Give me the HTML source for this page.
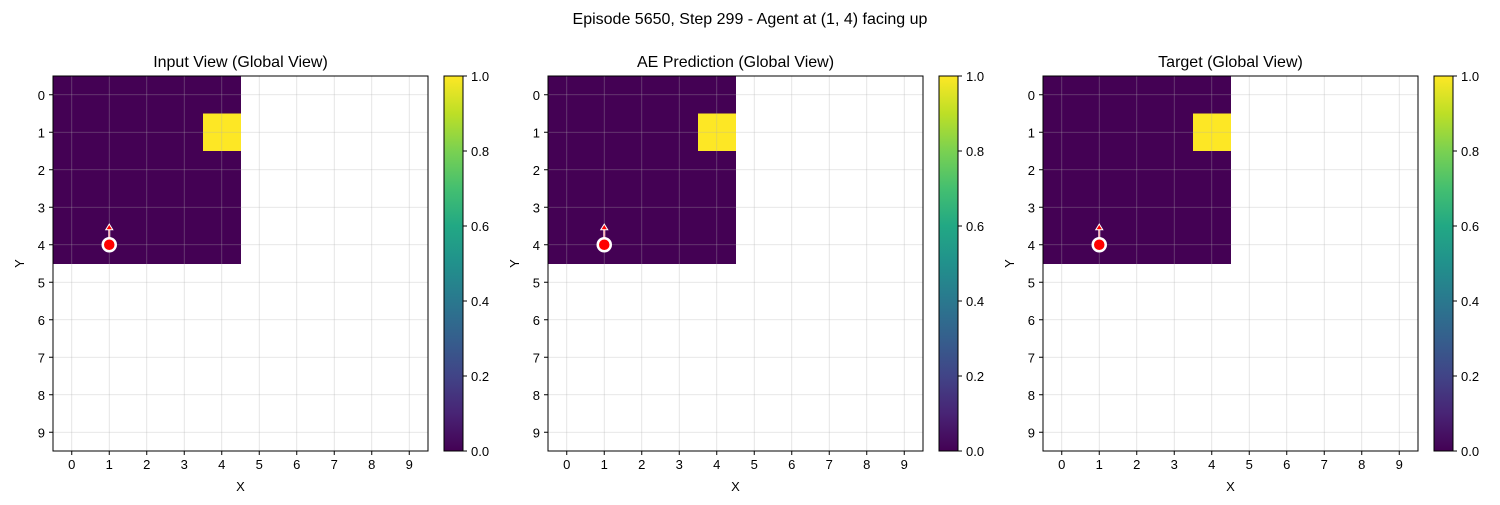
<!DOCTYPE html>
<html><head><meta charset="utf-8"><style>
body{margin:0;background:#fff;}
svg text{font-family:"Liberation Sans","DejaVu Sans",sans-serif;}
</style></head><body>
<svg id="chart" width="1500" height="500" xmlns="http://www.w3.org/2000/svg">
<defs><linearGradient id="vir" x1="0" y1="1" x2="0" y2="0">
<stop offset="0" stop-color="#440154"/><stop offset="0.1" stop-color="#482475"/><stop offset="0.2" stop-color="#414487"/><stop offset="0.3" stop-color="#355f8d"/><stop offset="0.4" stop-color="#2a788e"/><stop offset="0.5" stop-color="#21918c"/><stop offset="0.6" stop-color="#22a884"/><stop offset="0.7" stop-color="#44bf70"/><stop offset="0.8" stop-color="#7ad151"/><stop offset="0.9" stop-color="#bddf26"/><stop offset="1" stop-color="#fde725"/></linearGradient></defs>
<text x="750" y="24" font-size="16" text-anchor="middle">Episode 5650, Step 299 - Agent at (1, 4) facing up</text>
</svg>
<script>
const panelTitles = ["Input View (Global View)", "AE Prediction (Global View)", "Target (Global View)"];
const observedRows = [0,1,2,3,4];
const observedCols = [0,1,2,3,4];
const brightCells = [[4,1]];
const agentPos = [1,4];
const tickLabels = [0,1,2,3,4,5,6,7,8,9];
const cbTicks = [0.0,0.2,0.4,0.6,0.8,1.0];
const NS="http://www.w3.org/2000/svg";
const svg=document.getElementById('chart');
function mk(tag,attrs,parent){const e=document.createElementNS(NS,tag);for(const k in attrs)e.setAttribute(k,attrs[k]);(parent||svg).appendChild(e);return e;}
const lefts=[53,548,1043], TOP=76, size=375, cell=size/10;
panelTitles.forEach((t,p)=>{
  const L=lefts[p];
  const g=mk('g',{});
  
  
  const sx=v=>L+(v+0.5)*cell, sy=v=>TOP+(v+0.5)*cell;
  observedRows.forEach(r=>observedCols.forEach(c=>{
    const bright=brightCells.some(b=>b[0]===c&&b[1]===r);
    const rc=mk('rect',{x:sx(c)-cell/2,y:sy(r)-cell/2,width:cell+0.5,height:cell+0.5,fill:bright?'#fde725':'#440154'},g);
    
    
  }));
  tickLabels.forEach(v=>{
    mk('line',{x1:sx(v),x2:sx(v),y1:TOP,y2:TOP+size,stroke:'#b0b0b0','stroke-opacity':0.4,'stroke-width':0.8},g);
    mk('line',{y1:sy(v),y2:sy(v),x1:L,x2:L+size,stroke:'#b0b0b0','stroke-opacity':0.4,'stroke-width':0.8},g);
    mk('line',{x1:sx(v),x2:sx(v),y1:TOP+size,y2:TOP+size+4,stroke:'#000'},g);
    mk('line',{y1:sy(v),y2:sy(v),x1:L-4,x2:L,stroke:'#000'},g);
    const tx=mk('text',{x:sx(v),y:TOP+size+18,'font-size':13,'text-anchor':'middle'},g);tx.textContent=v;
    
    const ty=mk('text',{x:L-8,y:sy(v)+5,'font-size':13,'text-anchor':'end'},g);ty.textContent=v;
    
  });
  mk('rect',{x:L,y:TOP,width:size,height:size,fill:'none',stroke:'#000','stroke-width':1},g);
  const ti=mk('text',{x:L+size/2,y:67,'font-size':16,'text-anchor':'middle'},g);ti.textContent=t;
  
  const xl=mk('text',{x:L+size/2,y:491,'font-size':13,'text-anchor':'middle'},g);xl.textContent='X';
  
  const yl=mk('text',{x:0,y:0,'font-size':13,'text-anchor':'middle',transform:`translate(${L-29},${TOP+size/2}) rotate(-90)`},g);yl.textContent='Y';
  
  const ax=sx(agentPos[0]), ay=sy(agentPos[1]);
  mk('line',{x1:ax,y1:ay,x2:ax,y2:ay-cell*0.45,stroke:'#fff','stroke-width':2},g);
  mk('line',{x1:ax,y1:ay,x2:ax,y2:ay-cell*0.45,stroke:'#ff9999','stroke-width':1},g);
  const ah=mk('polygon',{points:`${ax},${ay-cell*0.55} ${ax-3.5},${ay-cell*0.4} ${ax+3.5},${ay-cell*0.4}`,fill:'red',stroke:'#fff','stroke-width':1},g);
  
  const ac=mk('circle',{cx:ax,cy:ay,r:6.5,fill:'red',stroke:'#fff','stroke-width':2.5},g);
  
  const cx=L+391, cw=19;
  const cb=mk('rect',{x:cx,y:TOP,width:cw,height:size,fill:'url(#vir)',stroke:'#000','stroke-width':1},g);
  
  cbTicks.forEach(v=>{
    const y=TOP+size-v*size;
    mk('line',{x1:cx+cw,x2:cx+cw+4,y1:y,y2:y,stroke:'#000'},g);
    const tt=mk('text',{x:cx+cw+8,y:y+5,'font-size':13},g);tt.textContent=v.toFixed(1);
    
  });
});
</script>
</body></html>
